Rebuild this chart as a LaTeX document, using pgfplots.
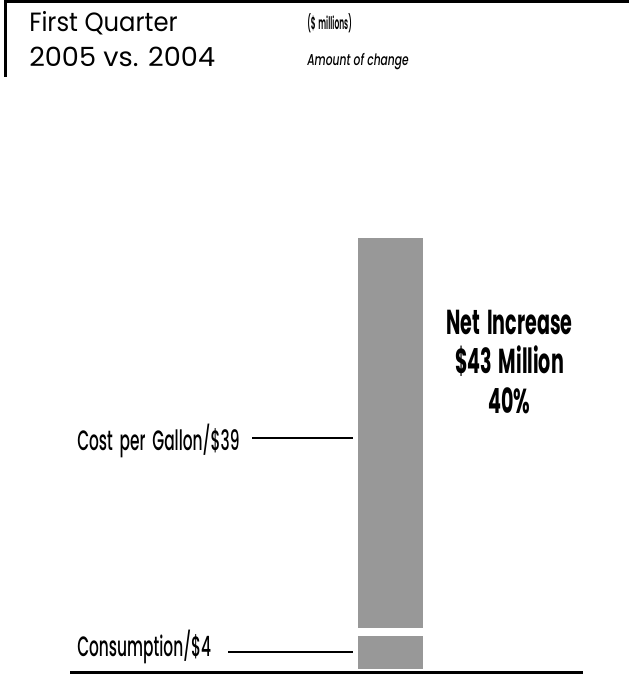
\documentclass[border=0pt]{standalone}
\usepackage{pgfplots}
\pgfplotsset{compat=1.18}
\usepackage{fontspec}
\setmainfont{Poppins}
\newfontfamily\titlefontA{Poppins}[FakeStretch=0.92]
\newfontfamily\titlefontB{Poppins}[FakeStretch=1.03]
\newfontfamily\condfont{Poppins}[FakeStretch=0.55, WordSpace=1.7, UprightFont={* Medium}, BoldFont={* Bold}, ItalicFont={* Medium Italic}]
\newfontfamily\condsmall{Poppins}[FakeStretch=0.43, WordSpace=1.5, UprightFont={* Medium}, BoldFont={* SemiBold}, ItalicFont={* Medium Italic}]
\newfontfamily\conditalic{Poppins}[FakeStretch=0.68, UprightFont={* Medium}, BoldFont={* Bold}, ItalicFont={* Medium Italic}]
\definecolor{barg}{RGB}{152,152,152}
% 1 px = 0.75pt ; y value v at pixel p : p = 669 - 10.02 v
\newcommand{\py}[1]{(669-#1)/10.02}
\begin{document}
\begin{tikzpicture}
\useasboundingbox (0,0) rectangle (471.75pt,506.25pt);
\begin{axis}[
  at={(0,0)}, anchor=south west,
  width=471.75pt, height=506.25pt, scale only axis,
  xmin=0, xmax=629, ymin=-0.599, ymax=66.766,
  hide axis, clip=false,
  ybar stacked, bar width=65,
]
\addplot[fill=barg, draw=none] coordinates {(390.5,4)};
\addplot[fill=barg, draw=none] coordinates {(390.5,39)};
% separator gap corners
\coordinate (g1) at (axis cs:356,{\py{636}});
\coordinate (g2) at (axis cs:425,{\py{628}});
% header frame
\draw[line width=2.25pt] (axis cs:4,{\py{1.5}}) -- (axis cs:629,{\py{1.5}});
\draw[line width=2.25pt] (axis cs:5.5,{\py{0}}) -- (axis cs:5.5,{\py{77}});
% baseline
\draw[line width=1.9pt] (axis cs:70,{\py{672.5}}) -- (axis cs:583,{\py{672.5}});
% leader lines
\draw[line width=1.1pt] (axis cs:252,{\py{438}}) -- (axis cs:353,{\py{438}});
\draw[line width=1.1pt] (axis cs:228,{\py{652}}) -- (axis cs:353,{\py{652}});
% texts
\node[anchor=base west, inner sep=0] at (axis cs:29,{\py{32}}) {\titlefontA\fontsize{19.8pt}{24pt}\selectfont First Quarter};
\node[anchor=base west, inner sep=0] at (axis cs:29,{\py{67}}) {\titlefontB\fontsize{19.8pt}{24pt}\selectfont 2005 vs. 2004};
\node[anchor=base west, inner sep=0] at (axis cs:307,{\py{30}}) {\condsmall\bfseries\fontsize{13pt}{15pt}\selectfont (\$ millions)};
\node[anchor=base west, inner sep=0] at (axis cs:307,{\py{66}}) {\conditalic\itshape\fontsize{11.8pt}{14pt}\selectfont Amount of change};
\node[anchor=base, inner sep=0] at (axis cs:509.5,{\py{335}}) {\condfont\bfseries\fontsize{26pt}{30pt}\selectfont Net Increase};
\node[anchor=base, inner sep=0] at (axis cs:509.5,{\py{374}}) {\condfont\bfseries\fontsize{26pt}{30pt}\selectfont \$43 Million};
\node[anchor=base, inner sep=0] at (axis cs:509.5,{\py{414}}) {\condfont\bfseries\fontsize{26pt}{30pt}\selectfont 40\%};
\node[anchor=base west, inner sep=0] at (axis cs:77,{\py{451}}) {\condfont\fontsize{21pt}{25pt}\selectfont Cost per Gallon/\$39};
\node[anchor=base west, inner sep=0] at (axis cs:77,{\py{657}}) {\condfont\fontsize{21pt}{25pt}\selectfont Consumption/\$4};
\end{axis}
\fill[white] (g1) rectangle (g2);
\end{tikzpicture}
\end{document}
